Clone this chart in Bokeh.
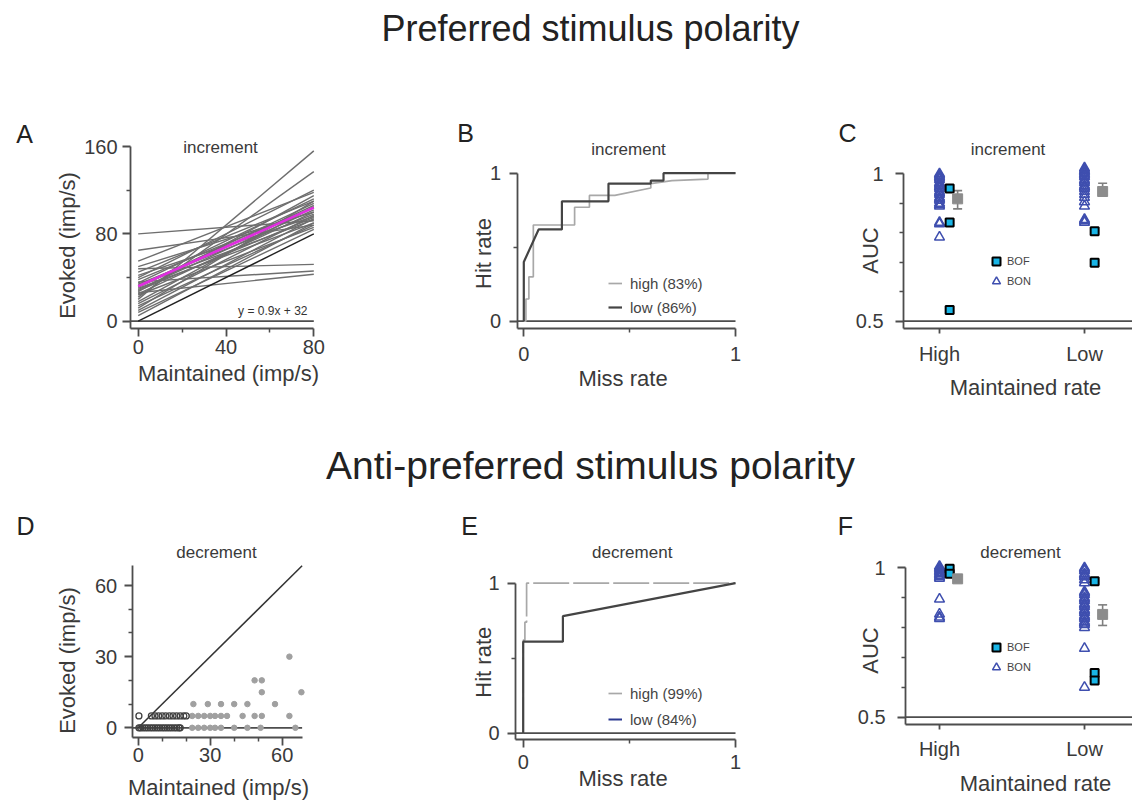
import math
from bokeh.plotting import figure
from bokeh.models import (Range1d, FixedTicker, Label, Legend, LegendItem, LinearAxis,
                          Whisker, TeeHead, ColumnDataSource, NumeralTickFormatter)
from bokeh.embed import file_html
from bokeh.resources import INLINE

FONT = "Liberation Sans"
AX = "#4d4d4d"
TXT = "#3a3a3a"
W, H = 1132, 800

# ---------------- data ----------------
# Panel A: per-neuron fits, evoked rate at maintained 0 and 80 imp/s
a_maint = [0, 80]
a_evoked_at0 = [80, 65, 55, 50, 48, 45, 42, 40, 38, 36, 35, 34, 33, 32, 31, 30,
                29, 28, 27, 26, 25, 24, 22, 20, 18, 16, 14, 12, 10, 8, 5]
a_evoked_at80 = [92, 88, 118, 100, 52, 110, 96, 120, 104, 46, 112, 98, 93, 108, 106, 90,
                 102, 95, 115, 43, 100, 86, 137, 156, 105, 97, 88, 110, 94, 84, 90]
a_fit = [32, 104]
a_unity = [0, 80]
a_fit_text = "y = 0.9x + 32"

# Panel B: ROC, increment
b_high_miss = [0, 0.01, 0.01, 0.024, 0.024, 0.045, 0.045, 0.24, 0.24, 0.31, 0.31, 0.43, 0.60, 0.60, 0.70, 0.87, 0.87, 1.0]
b_high_hit = [0, 0, 0.15, 0.15, 0.30, 0.30, 0.65, 0.65, 0.77, 0.77, 0.85, 0.85, 0.90, 0.93, 0.95, 0.96, 1.0, 1.0]
b_low_miss = [0, 0, 0.07, 0.18, 0.18, 0.40, 0.40, 0.60, 0.60, 0.66, 0.66, 1.0]
b_low_hit = [0, 0.40, 0.62, 0.62, 0.81, 0.81, 0.93, 0.93, 0.95, 0.95, 1.0, 1.0]
b_labels = ["high (83%)", "low (86%)"]

# Panel C: AUC, increment
cats = ["High", "Low"]
c_bon_high = [1.0, 0.995, 0.99, 0.985, 0.98, 0.97, 0.965, 0.96, 0.955, 0.95, 0.94, 0.935,
              0.93, 0.92, 0.915, 0.91, 0.90, 0.895, 0.89, 0.835, 0.83, 0.785]
c_bon_low = [1.02, 1.015, 1.01, 1.005, 1.0, 0.995, 0.99, 0.98, 0.975, 0.97, 0.96, 0.955,
             0.95, 0.94, 0.93, 0.92, 0.905, 0.89, 0.845, 0.84, 0.835]
c_bof_high = [0.95, 0.835, 0.538]
c_bof_low = [0.805, 0.698]
c_mean = [0.915, 0.94]
c_lo = [0.881, 0.926]
c_hi = [0.943, 0.968]

# Panel D: decrement scatter
d_low_maint = [0.3, 1, 2, 3, 4, 5, 6, 7, 8, 9, 10, 11, 12, 13, 14, 15, 16, 17, 17.5,
               0.3, 5.5, 7, 8.5, 10, 11.5, 13, 14.5, 16, 17.5, 19, 20]
d_low_evoked = [0] * 19 + [5] * 12
d_high_maint = [22.5, 25, 27.5, 30, 32, 34.5, 40, 45.5, 51, 65.5,
                22.5, 25, 27.5, 30, 32, 34.5, 37, 43.5, 48.5, 51.5, 63,
                23, 29, 34.5, 40, 45.5, 57,
                51.5, 68,
                48.5, 51.5,
                63]
d_high_evoked = [0] * 10 + [5] * 11 + [10] * 6 + [15] * 2 + [20] * 2 + [30]
d_unity = [0, 68.3]

# Panel E: ROC, decrement
e_high_miss = [0, 0, 0.008, 0.008, 0.016, 0.016, 1.0]
e_high_hit = [0, 0.62, 0.62, 0.74, 0.74, 1.0, 1.0]
e_low_miss = [0, 0, 0.187, 0.187, 1.0]
e_low_hit = [0, 0.61, 0.61, 0.78, 1.0]
e_labels = ["high (99%)", "low (84%)"]

# Panel F: AUC, decrement
f_bon_high = [1.005, 1.0, 0.995, 0.99, 0.985, 0.98, 0.975, 0.97, 0.965, 0.895, 0.845, 0.835, 0.83]
f_bon_low = [1.0, 0.995, 0.99, 0.98, 0.975, 0.97, 0.96, 0.95, 0.92, 0.915, 0.91, 0.90, 0.895,
             0.89, 0.88, 0.875, 0.87, 0.86, 0.855, 0.85, 0.84, 0.835, 0.83, 0.82, 0.815,
             0.81, 0.80, 0.73, 0.60]
f_bof_high = [0.997, 0.98]
f_bof_low = [0.955, 0.648, 0.623]
f_mean = [0.963, 0.844]
f_lo = [0.955, 0.807]
f_hi = [0.972, 0.876]

# ---------------- canvas ----------------
p = figure(width=W, height=H, x_range=Range1d(0, W), y_range=Range1d(0, H),
           x_axis_location=None, y_axis_location=None, toolbar_location=None,
           output_backend="svg", title=None, min_border=0)
p.outline_line_color = None
p.background_fill_color = "white"
p.grid.visible = False
p.xgrid.visible = False
p.ygrid.visible = False

# panel placement: two (value, pixel) anchors per direction
layout_spec = {
    "A": (((0, 137.7), (80, 313.3)), ((0, 320.7), (160, 146.0))),
    "B": (((0, 523.3), (1, 735.0)), ((0, 320.7), (1, 172.7))),
    "C": (((0, 939.0), (1, 1084.0)), ((0.5, 320.7), (1, 173.3))),
    "D": (((0, 137.7), (60, 281.7)), ((0, 727.3), (60, 585.0))),
    "E": (((0, 522.7), (1, 735.0)), ((0, 732.7), (1, 582.7))),
    "F": (((0, 939.0), (1, 1084.0)), ((0.5, 716.7), (1, 567.3))),
}
xrs, yrs = {}, {}
for name, (xa, ya) in layout_spec.items():
    (xv1, xp1), (xv2, xp2) = xa
    sx = (xp2 - xp1) / (xv2 - xv1)
    xrs[name] = Range1d(xv1 - xp1 / sx, xv1 + (W - xp1) / sx)
    (yv1, yp1), (yv2, yp2) = ya
    sy = (yp1 - yp2) / (yv2 - yv1)
    yrs[name] = Range1d(yv1 - (H - yp1) / sy, yv1 + yp1 / sy)
p.extra_x_ranges = xrs
p.extra_y_ranges = yrs


def style_axis(ax, std, tick_out=8):
    ax.axis_line_color = AX
    ax.axis_line_width = 1.8
    ax.major_tick_line_color = AX
    ax.major_tick_line_width = 1.8
    ax.major_tick_in = 0
    ax.major_tick_out = tick_out
    ax.minor_tick_line_color = AX
    ax.minor_tick_line_width = 1.5
    ax.minor_tick_in = 0
    ax.minor_tick_out = 4
    ax.major_label_standoff = std
    ax.major_label_text_font = FONT
    ax.major_label_text_font_size = "20px"
    ax.major_label_text_color = TXT


def axes(name, xt, xm, yt, ym, xb, yb, xstd, ystd, xtick_out=8):
    xa = LinearAxis(x_range_name=name, y_range_name=name, fixed_location=yb[0], bounds=xb,
                    ticker=FixedTicker(ticks=xt, minor_ticks=xm))
    style_axis(xa, xstd, xtick_out)
    p.add_layout(xa, "below")
    ya = LinearAxis(x_range_name=name, y_range_name=name, fixed_location=xb[0], bounds=yb,
                    ticker=FixedTicker(ticks=yt, minor_ticks=ym))
    style_axis(ya, ystd)
    p.add_layout(ya, "left")
    return xa, ya


def lab(x, y, text, size, color=TXT, align="center", angle=0.0):
    p.add_layout(Label(x=x, y=H - y, x_units="screen", y_units="screen", text=text,
                       text_font=FONT, text_font_size=size, text_color=color,
                       text_align=align, text_baseline="middle", angle=angle))


def zero_line(name, x0, x1, y):
    p.segment(x0=[x0], y0=[y], x1=[x1], y1=[y], x_range_name=name, y_range_name=name,
              line_color=AX, line_width=1.8)


def roc_legend(r1, r2, labels, loc, spacing):
    p.add_layout(Legend(items=[LegendItem(label=labels[0], renderers=[r1]),
                               LegendItem(label=labels[1], renderers=[r2])],
                        location=loc, orientation="vertical", padding=0, margin=0,
                        spacing=spacing, glyph_width=14, glyph_height=20, label_height=20,
                        label_standoff=8, label_text_font=FONT, label_text_font_size="15px",
                        label_text_color="#444444", background_fill_alpha=0,
                        border_line_color=None))


def auc_panel(name, bon_high, bon_low, bof_high, bof_low, mean, lo, hi, leg_loc):
    kw = dict(x_range_name=name, y_range_name=name)
    bon_x = [0] * len(bon_high) + [1] * len(bon_low)
    r_bon = p.scatter(bon_x, bon_high + bon_low, marker="triangle", size=10, fill_color=None,
                      line_color="#3f4faf", line_width=1.5, **kw)
    bof_off = 0.07
    bof_x = [bof_off] * len(bof_high) + [1 + bof_off] * len(bof_low)
    r_bof = p.scatter(bof_x, bof_high + bof_low, marker="square", size=8,
                      fill_color="#19b5e6", line_color="black", line_width=2, **kw)
    mean_off = 0.125
    src = ColumnDataSource(dict(x=[i + mean_off for i in range(len(cats))], m=mean, lo=lo, hi=hi))
    grey = "#7f7f7f"
    p.add_layout(Whisker(source=src, base="x", lower="lo", upper="hi", dimension="height",
                         line_color=grey, line_width=1.6,
                         upper_head=TeeHead(size=9, line_color=grey, line_width=1.6),
                         lower_head=TeeHead(size=9, line_color=grey, line_width=1.6), **kw))
    p.scatter("x", "m", source=src, marker="square", size=10, fill_color="#8c8c8c",
              line_color="#8c8c8c", **kw)
    p.add_layout(Legend(items=[LegendItem(label="BOF", renderers=[r_bof]),
                               LegendItem(label="BON", renderers=[r_bon])],
                        location=leg_loc, padding=0, margin=0, spacing=-4,
                        glyph_width=20, glyph_height=20, label_height=16, label_standoff=1,
                        label_text_font=FONT, label_text_font_size="11px",
                        label_text_color="#444444", background_fill_alpha=0,
                        border_line_color=None))


# ---------------- titles ----------------
lab(590, 28, "Preferred stimulus polarity", "36px", color="#222222")
lab(590, 465, "Anti-preferred stimulus polarity", "39px", color="#222222")

# ---------------- Panel A ----------------
axes("A", [0, 40, 80], [20, 60], [0, 80, 160], [40, 120], (-3.5, 80), (-7, 160), 3, 5)
zero_line("A", -3.5, 80, 0)
p.multi_line(xs=[a_maint] * len(a_evoked_at0),
             ys=[[s, e] for s, e in zip(a_evoked_at0, a_evoked_at80)],
             line_color="#6e6e6e", line_width=1.4, x_range_name="A", y_range_name="A")
p.line(a_maint, a_unity, line_color="#222222", line_width=1.4, x_range_name="A", y_range_name="A")
p.line(a_maint, a_fit, line_color="#e02ee0", line_width=2.6, x_range_name="A", y_range_name="A")
lab(307, 310, a_fit_text, "12px", color="#333333", align="right")
lab(220, 147, "increment", "17px")
lab(24, 133, "A", "25px", color="#222222")
lab(228, 373, "Maintained (imp/s)", "22px")
lab(67, 245, "Evoked (imp/s)", "22px", angle=math.pi / 2)

# ---------------- Panel B ----------------
axes("B", [0, 1], [0.5], [0, 1], [0.5], (-0.031, 1), (-0.051, 1), 10, 8)
zero_line("B", -0.031, 1, 0)
rbh = p.line(b_high_miss, b_high_hit, line_color="#a8a8a8", line_width=1.7,
             x_range_name="B", y_range_name="B")
rbl = p.line(b_low_miss, b_low_hit, line_color="#444444", line_width=2.2,
             x_range_name="B", y_range_name="B")
roc_legend(rbh, rbl, b_labels, (608, H - 317), 4)
lab(628, 149, "increment", "17px")
lab(465, 132, "B", "25px", color="#222222")
lab(622.5, 378, "Miss rate", "22px")
lab(482.5, 253, "Hit rate", "22px", angle=math.pi / 2)

# ---------------- Panel C ----------------
xa_c, ya_c = axes("C", [0, 1], [], [0.5, 1], [0.6, 0.7, 0.8, 0.9], (-0.248, 1.33), (0.474, 1.0), 9, 12, xtick_out=5)
xa_c.major_label_overrides = {i: c for i, c in enumerate(cats)}
ya_c.formatter = NumeralTickFormatter(format="0.[0]")
zero_line("C", -0.248, 1.33, 0.5)
auc_panel("C", c_bon_high, c_bon_low, c_bof_high, c_bof_low, c_mean, c_lo, c_hi, (986, H - 291))
lab(1007.5, 149, "increment", "17px")
lab(847, 132, "C", "25px", color="#222222")
lab(1025, 387, "Maintained rate", "22px")
lab(870, 250, "AUC", "22px", angle=math.pi / 2)

# ---------------- Panel D ----------------
axes("D", [0, 30, 60], [10, 20, 40, 50], [0, 30, 60], [10, 20, 40, 50], (-2.5, 68.3), (-3.93, 68.4), 3, 7)
zero_line("D", -2.5, 68.3, 0)
p.line(d_unity, d_unity, line_color="#333333", line_width=1.5, x_range_name="D", y_range_name="D")
p.scatter(d_high_maint, d_high_evoked, marker="circle", size=5.5, fill_color="#a0a0a0",
          line_color="#a0a0a0", x_range_name="D", y_range_name="D")
p.scatter(d_low_maint, d_low_evoked, marker="circle", size=6, fill_color=None,
          line_color="#404040", line_width=1.3, x_range_name="D", y_range_name="D")
lab(216, 551.7, "decrement", "17px")
lab(25, 525, "D", "25px", color="#222222")
lab(218, 787, "Maintained (imp/s)", "22px")
lab(67, 660, "Evoked (imp/s)", "22px", angle=math.pi / 2)

# ---------------- Panel E ----------------
axes("E", [0, 1], [0.5], [0, 1], [0.5], (-0.036, 1), (-0.044, 1), 7, 8)
zero_line("E", -0.036, 1, 0)
reh = p.line(e_high_miss, e_high_hit, line_color="#a8a8a8", line_width=1.7, line_dash="36 4",
             x_range_name="E", y_range_name="E")
rel = p.line(e_low_miss, e_low_hit, line_color="#444444", line_width=2.2,
             x_range_name="E", y_range_name="E")
# legend key for the "low" curve (drawn in navy in the key only; a single point draws no line)
rel_key = p.line(x=e_low_miss[-1:], y=e_low_hit[-1:], line_color="#2b3990", line_width=2,
                 x_range_name="E", y_range_name="E")
roc_legend(reh, rel_key, e_labels, (608, H - 729), 6)
lab(631.7, 551.7, "decrement", "17px")
lab(469, 525, "E", "25px", color="#222222")
lab(622.5, 778, "Miss rate", "22px")
lab(482.5, 661.7, "Hit rate", "22px", angle=math.pi / 2)

# ---------------- Panel F ----------------
xa_f, ya_f = axes("F", [0, 1], [], [0.5, 1], [0.6, 0.7, 0.8, 0.9], (-0.234, 1.33), (0.4746, 1.0), 8, 12, xtick_out=5)
xa_f.major_label_overrides = {i: c for i, c in enumerate(cats)}
ya_f.formatter = NumeralTickFormatter(format="0.[0]")
zero_line("F", -0.234, 1.33, 0.5)
auc_panel("F", f_bon_high, f_bon_low, f_bof_high, f_bof_low, f_mean, f_lo, f_hi, (986, H - 677))
lab(1020, 551.7, "decrement", "17px")
lab(845, 525, "F", "25px", color="#222222")
lab(1035, 783, "Maintained rate", "22px")
lab(870, 650, "AUC", "22px", angle=math.pi / 2)

open("out.html", "w").write(file_html(p, INLINE))
